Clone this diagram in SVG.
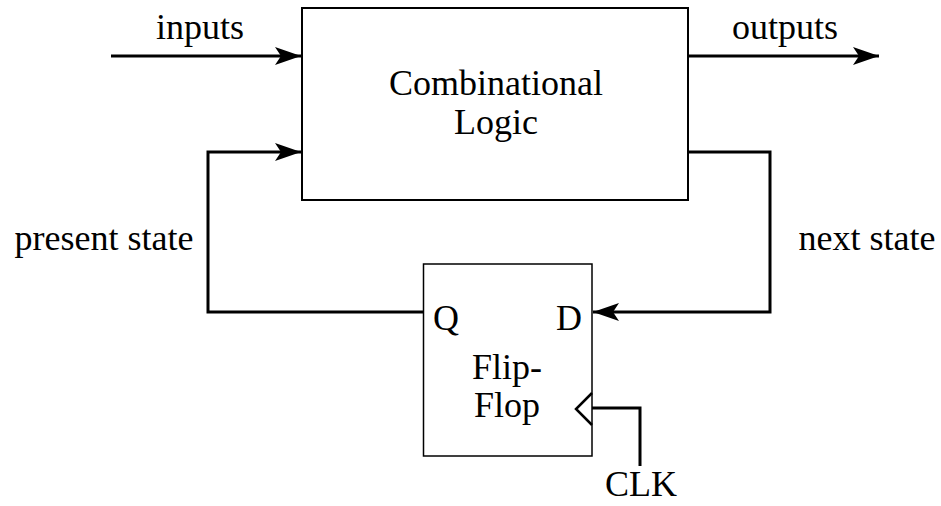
<svg xmlns="http://www.w3.org/2000/svg" width="941" height="506" viewBox="0 0 941 506">
<style>
text{font-family:"Liberation Serif","Times New Roman",serif;font-size:36px;fill:#000}
.box{fill:#fff;stroke:#000;stroke-width:2}
.w{fill:none;stroke:#000;stroke-width:3}
</style>
<defs>
<marker id="ah" viewBox="0 0 26 18" refX="26" refY="9" markerWidth="26" markerHeight="18" markerUnits="userSpaceOnUse" orient="auto">
<path d="M0,0 L26,9 L0,18 L6,9 Z" fill="#000"/>
</marker>
</defs>
<rect width="941" height="506" fill="#fff"/>
<g id="connectors">
<path class="w" d="M111,56 H301" marker-end="url(#ah)"/>
<path class="w" d="M689,56 H879" marker-end="url(#ah)"/>
<path class="w" d="M424,312 H208 V152 H301" marker-end="url(#ah)"/>
<path class="w" d="M689,152 H770 V312 H593" marker-end="url(#ah)"/>
<path class="w" d="M592,408 H640 V466"/>
</g>
<g id="comb">
<rect class="box" x="302" y="8" width="386" height="192"/>
<text x="496" y="95" text-anchor="middle">Combinational</text>
<text x="496" y="134" text-anchor="middle">Logic</text>
</g>
<g id="ff">
<rect x="423.5" y="264" width="168.5" height="192" fill="#fff" stroke="#000" stroke-width="1.5"/>
<path d="M592,393 L576,409 L592,425" fill="none" stroke="#000" stroke-width="2.5"/>
<text x="433" y="330">Q</text>
<text x="582" y="330" text-anchor="end">D</text>
<text x="507" y="379" text-anchor="middle">Flip-</text>
<text x="507" y="417" text-anchor="middle">Flop</text>
</g>
<g id="labels">
<text x="200" y="39" text-anchor="middle">inputs</text>
<text x="785" y="39" text-anchor="middle">outputs</text>
<text x="104" y="250" text-anchor="middle">present state</text>
<text x="867" y="250" text-anchor="middle">next state</text>
<text x="641" y="496" text-anchor="middle">CLK</text>
</g>
</svg>
